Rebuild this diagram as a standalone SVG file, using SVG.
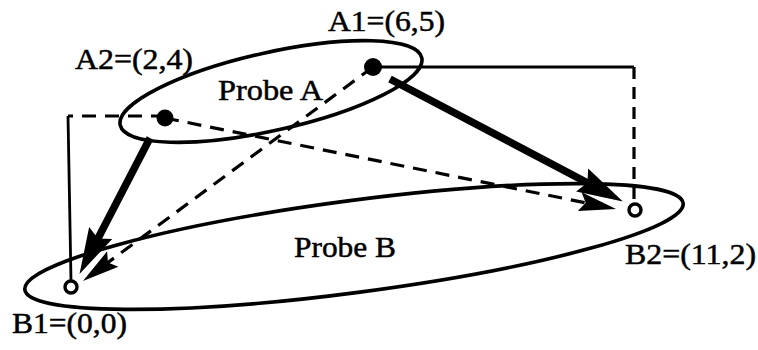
<svg xmlns="http://www.w3.org/2000/svg" width="758" height="350" viewBox="0 0 758 350">
<style>
.lbl{font-family:"Liberation Serif","Times New Roman",serif;font-size:30px;fill:#000;stroke:#000;stroke-width:0.5}
.ell{fill:none;stroke:#000;stroke-width:3.6}
.thin{fill:none;stroke:#000;stroke-width:2.8}
.dash{fill:none;stroke:#000;stroke-width:3.2;stroke-dasharray:14 9}
.thick{fill:none;stroke:#000;stroke-width:7.5}
.dot{fill:#000}
.ring{fill:#fff;stroke:#000;stroke-width:3.4}
</style>
<defs>
<marker id="bighead" markerUnits="userSpaceOnUse" orient="auto" refX="0" refY="0" markerWidth="80" markerHeight="40" viewBox="-20 -20 60 40" overflow="visible">
<path d="M31,0 L-15,-13 L-9,0 L-15,13 Z" fill="#000"/>
</marker>
<marker id="dhead" markerUnits="userSpaceOnUse" orient="auto" refX="0" refY="0" markerWidth="60" markerHeight="30" viewBox="-20 -15 50 30" overflow="visible">
<path d="M24,0 L-13,-9.5 L-7,0 L-13,9.5 Z" fill="#000"/>
</marker>
</defs>
<g id="probeA">
<ellipse class="ell" cx="271" cy="91.5" rx="154.5" ry="39" transform="rotate(-12.6 271 91.5)"/>
<text class="lbl" x="218" y="100" textLength="105" lengthAdjust="spacingAndGlyphs">Probe A</text>
</g>
<g id="probeB">
<ellipse class="ell" cx="354" cy="246.5" rx="332" ry="46" transform="rotate(-7.5 354 246.5)"/>
<text class="lbl" x="294" y="257" textLength="102" lengthAdjust="spacingAndGlyphs">Probe B</text>
</g>
<g id="connectors">
<path class="thin" d="M373,67 H634"/>
<path class="dash" d="M634,67 V204" style="stroke-dasharray:12 8"/>
<path class="dash" d="M165,116 H68"/>
<path class="thin" d="M68,116 L71,281"/>
<path class="dash" d="M373,67 L102.3,266.7" marker-end="url(#dhead)"/>
<path class="dash" d="M165,118 L592.5,204.2" marker-end="url(#dhead)"/>
<path class="thick" d="M150,138 L93.8,246.4" marker-end="url(#bighead)"/>
<path class="thick" d="M390,79 L595.4,187" marker-end="url(#bighead)"/>
</g>
<g id="A1">
<circle class="dot" cx="373" cy="67" r="9"/>
<text class="lbl" x="328" y="31" textLength="117" lengthAdjust="spacingAndGlyphs">A1=(6,5)</text>
</g>
<g id="A2">
<circle class="dot" cx="165" cy="118" r="8.5"/>
<text class="lbl" x="75" y="69" textLength="118" lengthAdjust="spacingAndGlyphs">A2=(2,4)</text>
</g>
<g id="B1">
<circle class="ring" cx="71" cy="287" r="6"/>
<text class="lbl" x="12" y="333" textLength="115" lengthAdjust="spacingAndGlyphs">B1=(0,0)</text>
</g>
<g id="B2">
<circle class="ring" cx="635" cy="210" r="6"/>
<text class="lbl" x="625" y="264" textLength="131" lengthAdjust="spacingAndGlyphs">B2=(11,2)</text>
</g>
</svg>
